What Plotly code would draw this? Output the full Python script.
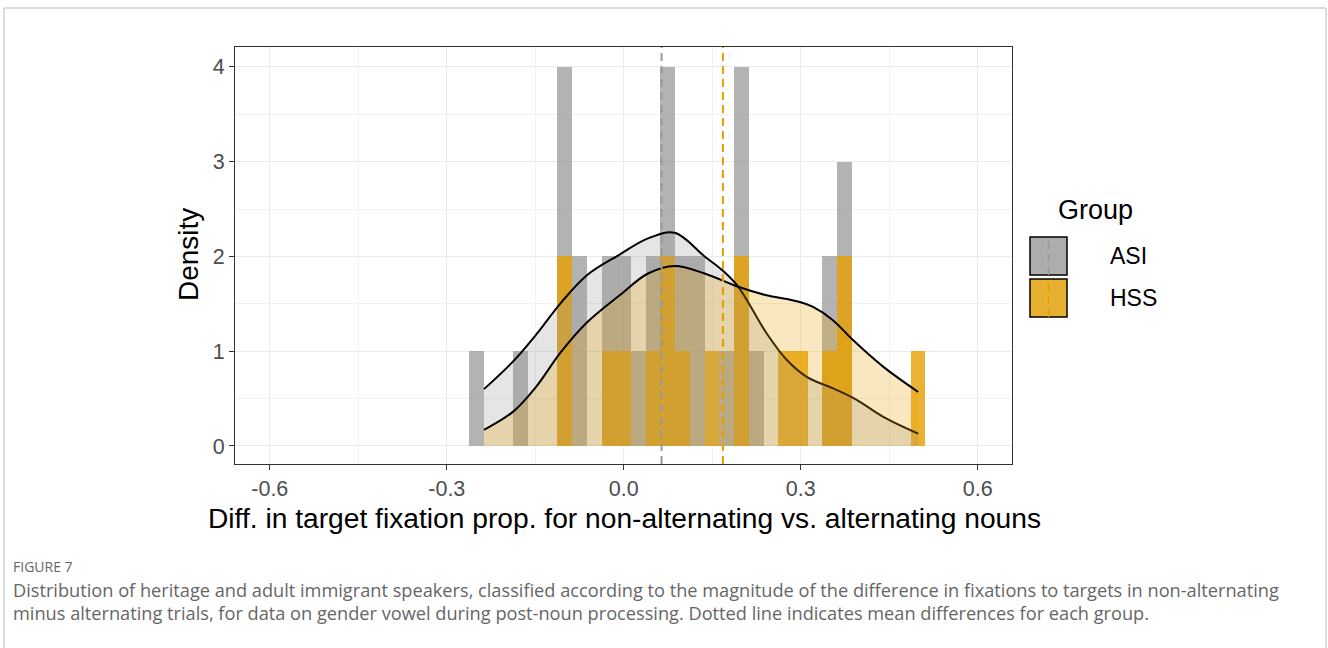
import plotly.graph_objects as go

# ---------------- data ----------------
groups = ["ASI", "HSS"]
bin_start = -0.2622
bin_width = 0.02495
asi_counts = [1, 0, 0, 1, 0, 0, 4, 2, 0, 2, 2, 1, 2, 4, 2, 2, 0, 1, 4, 1, 0, 0, 0, 0, 2, 3, 0, 0, 0, 0, 0]
hss_counts = [0, 0, 0, 0, 0, 0, 2, 0, 0, 1, 1, 0, 1, 2, 1, 0, 1, 0, 2, 0, 0, 1, 1, 0, 1, 2, 0, 0, 0, 0, 1]

asi_dens_x = [-0.237, -0.188, -0.148, -0.108, -0.063, -0.007, 0.041, 0.086, 0.137, 0.166, 0.194, 0.242, 0.276, 0.310, 0.354, 0.394, 0.439, 0.499]
asi_dens_y = [0.60, 0.89, 1.18, 1.50, 1.80, 2.02, 2.19, 2.25, 2.00, 1.86, 1.68, 1.19, 0.91, 0.73, 0.61, 0.49, 0.31, 0.13]
hss_dens_x = [-0.237, -0.188, -0.148, -0.108, -0.063, -0.007, 0.041, 0.086, 0.137, 0.194, 0.242, 0.276, 0.298, 0.320, 0.354, 0.388, 0.439, 0.499]
hss_dens_y = [0.17, 0.36, 0.63, 0.98, 1.30, 1.59, 1.82, 1.90, 1.82, 1.68, 1.59, 1.55, 1.52, 1.47, 1.33, 1.12, 0.84, 0.57]

group_means = [0.064, 0.168]

x_ticks = [-0.6, -0.3, 0.0, 0.3, 0.6]
x_tick_labels = ["-0.6", "-0.3", "0.0", "0.3", "0.6"]
y_ticks = [0, 1, 2, 3, 4]
y_tick_labels = ["0", "1", "2", "3", "4"]

x_title = "Diff. in target fixation prop. for non-alternating vs. alternating nouns"
y_title = "Density"
legend_title = "Group"
caption_label = "FIGURE 7"
caption_lines = [
    "Distribution of heritage and adult immigrant speakers, classified according to the magnitude of the difference in fixations to targets in non-alternating",
    "minus alternating trials, for data on gender vowel during post-noun processing. Dotted line indicates mean differences for each group.",
]

# ---------------- style ----------------
bar_colors = ["rgba(153,153,153,0.75)", "rgba(230,159,0,0.8)"]
fill_colors = ["rgba(153,153,153,0.25)", "rgba(230,159,0,0.25)"]
line_colors = ["#999999", "#E69F00"]
key_colors = ["#ADADAD", "#E8B030"]
FONT = "Liberation Sans, Arial, sans-serif"
CAP_FONT = "Open Sans, Lato, sans-serif"

W_FIG, H_FIG = 1328, 648
PL, PR, PT, PB = 235, 1012, 47, 464
PW, PH = PR - PL, PB - PT


def px(x):
    return (x - PL) / PW


def py(y):
    return (PB - y) / PH


fig = go.Figure()

centers = [bin_start + bin_width * (i + 0.5) for i in range(len(asi_counts))]
for g, counts, col in zip(groups, [asi_counts, hss_counts], bar_colors):
    fig.add_trace(go.Bar(x=centers, y=counts, width=bin_width, name=g,
                         marker=dict(color=col, line=dict(width=0)),
                         showlegend=False, hoverinfo="skip"))

for g, dx, dy, fc in zip(groups, [asi_dens_x, hss_dens_x], [asi_dens_y, hss_dens_y], fill_colors):
    fig.add_trace(go.Scatter(x=dx, y=dy, mode="lines", fill="tozeroy", fillcolor=fc,
                             line=dict(color="black", width=2, shape="spline", smoothing=1.0),
                             name=g, showlegend=False, hoverinfo="skip"))

shapes = []
for m, c in zip(group_means, line_colors):
    shapes.append(dict(type="line", xref="x", yref="paper", x0=m, x1=m, y0=0, y1=1,
                       line=dict(color=c, width=2, dash="8px,5px"), layer="above"))

# outer frame
shapes.append(dict(type="rect", xref="paper", yref="paper",
                   x0=px(4), x1=px(1326), y0=py(700), y1=py(8),
                   line=dict(color="#BBBBBB", width=1), fillcolor="rgba(0,0,0,0)", layer="below"))

annotations = []
# legend
annotations.append(dict(text=legend_title, xref="paper", yref="paper", x=px(1056), y=py(210),
                        xanchor="left", yanchor="middle", showarrow=False,
                        font=dict(family=FONT, size=27, color="black")))
key_tops = [237, 279]
for g, kc, lc, top in zip(groups, key_colors, line_colors, key_tops):
    shapes.append(dict(type="rect", xref="paper", yref="paper",
                       x0=px(1030), x1=px(1067), y0=py(top + 38), y1=py(top),
                       line=dict(color="black", width=1.5), fillcolor=kc))
    shapes.append(dict(type="line", xref="paper", yref="paper",
                       x0=px(1048.5), x1=px(1048.5), y0=py(top + 38), y1=py(top),
                       line=dict(color=lc, width=1.5, dash="8px,5px")))
    annotations.append(dict(text=g, xref="paper", yref="paper", x=px(1108), y=py(top + 19),
                            xanchor="left", yanchor="middle", showarrow=False,
                            font=dict(family=FONT, size=23, color="black")))

# axis titles
annotations.append(dict(text=x_title, xref="paper", yref="paper", x=px(624), y=py(518),
                        xanchor="center", yanchor="middle", showarrow=False,
                        font=dict(family=FONT, size=28.2, color="black")))
annotations.append(dict(text=y_title, xref="paper", yref="paper", x=px(188), y=py(255),
                        xanchor="center", yanchor="middle", showarrow=False, textangle=-90,
                        font=dict(family=FONT, size=28, color="black")))

# caption
annotations.append(dict(text=caption_label, xref="paper", yref="paper", x=px(11), y=py(566),
                        xanchor="left", yanchor="middle", showarrow=False,
                        font=dict(family=CAP_FONT, size=14, color="#666666")))
for i, line in enumerate(caption_lines):
    annotations.append(dict(text=line, xref="paper", yref="paper", x=px(11), y=py(590 + 23 * i),
                            xanchor="left", yanchor="middle", showarrow=False,
                            font=dict(family=CAP_FONT, size=18.2, color="#666666")))

axis_common = dict(showline=True, mirror=True, linecolor="#333333", linewidth=1,
                   ticks="outside", ticklen=5, tickcolor="#333333", tickwidth=1,
                   showgrid=True, gridcolor="#EBEBEB", gridwidth=1.4, zeroline=False,
                   tickfont=dict(family=FONT, size=21.5, color="#4D4D4D"))

fig.update_layout(
    width=W_FIG, height=H_FIG,
    margin=dict(l=PL, r=W_FIG - PR, t=PT, b=H_FIG - PB),
    paper_bgcolor="white", plot_bgcolor="white",
    barmode="overlay", bargap=0, showlegend=False,
    shapes=shapes, annotations=annotations,
    xaxis=dict(range=[-0.659, 0.658], tickvals=x_ticks, ticktext=x_tick_labels,
               minor=dict(dtick=0.15, tick0=-0.45, showgrid=True, gridcolor="#F2F2F2", gridwidth=0.8),
               **axis_common),
    yaxis=dict(range=[-0.19, 4.21], tickvals=y_ticks, ticktext=y_tick_labels,
               minor=dict(dtick=0.5, tick0=0.5, showgrid=True, gridcolor="#F2F2F2", gridwidth=0.8),
               **axis_common),
)

fig.write_html("out.html")
